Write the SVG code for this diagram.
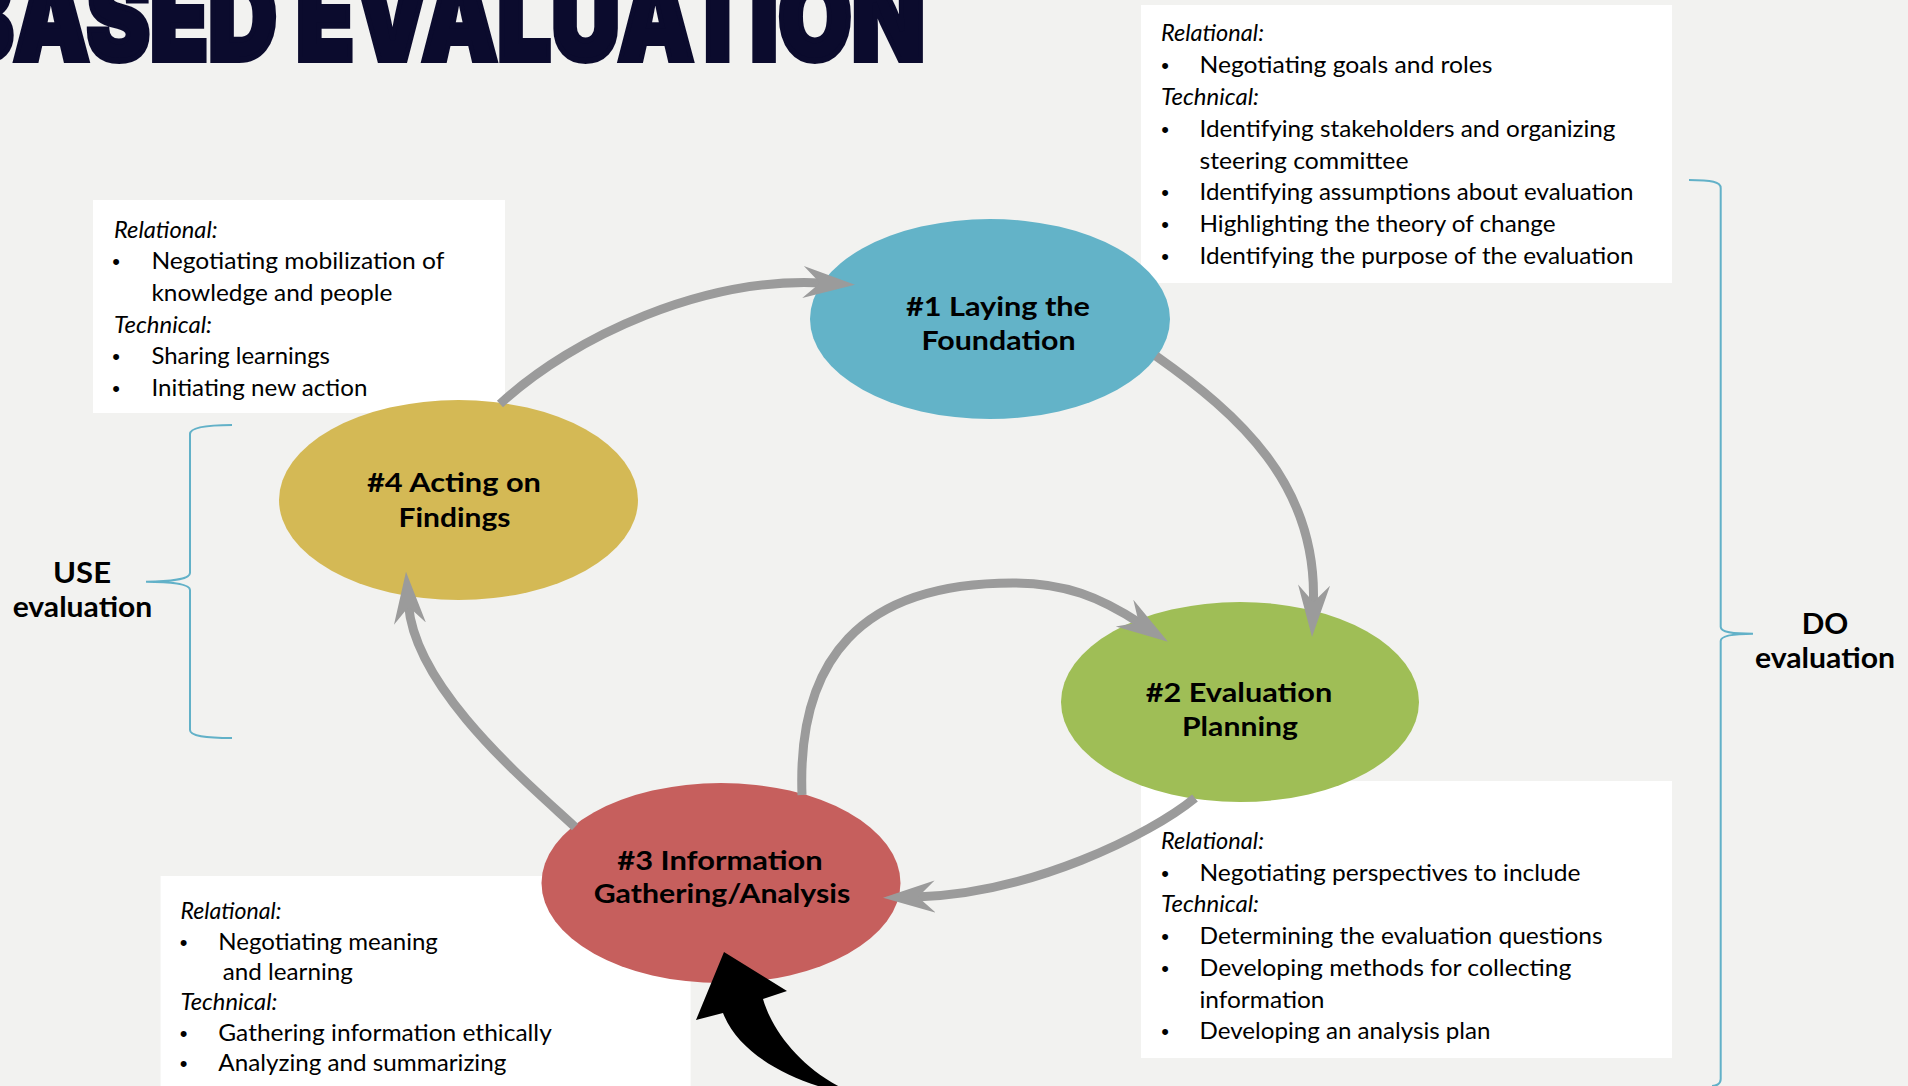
<svg xmlns="http://www.w3.org/2000/svg" width="1908" height="1086" viewBox="0 0 1908 1086">
<style>
.box{fill:#ffffff}
.body{font-family:Lato,'Open Sans','Liberation Sans',sans-serif;font-size:23px;fill:#000}
.it{font-style:italic}
.bul{font-family:'Liberation Sans',sans-serif;font-size:22px;fill:#000;text-anchor:middle}
.lbl{font-family:Lato,'Open Sans','Liberation Sans',sans-serif;font-weight:700;font-size:27px;fill:#000;text-anchor:middle}
.arrow{fill:none;stroke:#9B9B9B;stroke-width:9;marker-end:url(#ah)}
.brace{fill:none;stroke:#62B1C8;stroke-width:2}
.side{font-family:Lato,'Open Sans','Liberation Sans',sans-serif;font-weight:700;font-size:28px;fill:#000;text-anchor:middle}
</style>
<defs>
<marker id="ah" markerUnits="userSpaceOnUse" markerWidth="60" markerHeight="40" viewBox="0 -20 60 40" refX="19" refY="0" orient="auto">
<path d="M 52 0 L 0 -16 L 17 0 L 0 16 Z" fill="#9B9B9B"/>
</marker>
</defs>
<rect x="0" y="0" width="1908" height="1086" fill="#F2F2F0"/>
<text x="-50" y="60" textLength="975" lengthAdjust="spacingAndGlyphs" font-family="Inter,'Liberation Sans',sans-serif" font-weight="900" font-size="120" fill="#0B0B2D" stroke="#0B0B2D" stroke-width="6" stroke-linejoin="miter">BASED EVALUATION</text>

<g id="box-top-left">
<rect class="box" x="93" y="200" width="412" height="213"/>
<text class="body it" x="114" y="237.5" textLength="103.6" lengthAdjust="spacingAndGlyphs">Relational:</text>
<text class="bul" x="116" y="269">•</text>
<text class="body" x="151.4" y="269.2" textLength="293" lengthAdjust="spacingAndGlyphs">Negotiating mobilization of</text>
<text class="body" x="151.4" y="300.9" textLength="241" lengthAdjust="spacingAndGlyphs">knowledge and people</text>
<text class="body it" x="114" y="332.6" textLength="98" lengthAdjust="spacingAndGlyphs">Technical:</text>
<text class="bul" x="116" y="364">•</text>
<text class="body" x="151.4" y="364.3" textLength="178.6" lengthAdjust="spacingAndGlyphs">Sharing learnings</text>
<text class="bul" x="116" y="396">•</text>
<text class="body" x="151.4" y="396" textLength="216" lengthAdjust="spacingAndGlyphs">Initiating new action</text>
</g>

<g id="box-top-right">
<rect class="box" x="1141" y="5" width="531" height="278"/>
<text class="body it" x="1161" y="41" textLength="103" lengthAdjust="spacingAndGlyphs">Relational:</text>
<text class="bul" x="1165" y="73">•</text>
<text class="body" x="1199.5" y="73" textLength="293" lengthAdjust="spacingAndGlyphs">Negotiating goals and roles</text>
<text class="body it" x="1161" y="105" textLength="98" lengthAdjust="spacingAndGlyphs">Technical:</text>
<text class="bul" x="1165" y="137">•</text>
<text class="body" x="1199.5" y="137" textLength="416" lengthAdjust="spacingAndGlyphs">Identifying stakeholders and organizing</text>
<text class="body" x="1199.5" y="168.5" textLength="209" lengthAdjust="spacingAndGlyphs">steering committee</text>
<text class="bul" x="1165" y="200">•</text>
<text class="body" x="1199.5" y="200" textLength="434" lengthAdjust="spacingAndGlyphs">Identifying assumptions about evaluation</text>
<text class="bul" x="1165" y="232">•</text>
<text class="body" x="1199.5" y="232" textLength="356" lengthAdjust="spacingAndGlyphs">Highlighting the theory of change</text>
<text class="bul" x="1165" y="264">•</text>
<text class="body" x="1199.5" y="264" textLength="434" lengthAdjust="spacingAndGlyphs">Identifying the purpose of the evaluation</text>
</g>

<g id="box-bottom-right">
<rect class="box" x="1141" y="781" width="531" height="277"/>
<text class="body it" x="1161" y="849" textLength="103" lengthAdjust="spacingAndGlyphs">Relational:</text>
<text class="bul" x="1165" y="880.5">•</text>
<text class="body" x="1199.5" y="880.5" textLength="381" lengthAdjust="spacingAndGlyphs">Negotiating perspectives to include</text>
<text class="body it" x="1161" y="912" textLength="98" lengthAdjust="spacingAndGlyphs">Technical:</text>
<text class="bul" x="1165" y="944">•</text>
<text class="body" x="1199.5" y="944" textLength="403" lengthAdjust="spacingAndGlyphs">Determining the evaluation questions</text>
<text class="bul" x="1165" y="975.5">•</text>
<text class="body" x="1199.5" y="975.5" textLength="372" lengthAdjust="spacingAndGlyphs">Developing methods for collecting</text>
<text class="body" x="1199.5" y="1007.5" textLength="125" lengthAdjust="spacingAndGlyphs">information</text>
<text class="bul" x="1165" y="1039">•</text>
<text class="body" x="1199.5" y="1039" textLength="291" lengthAdjust="spacingAndGlyphs">Developing an analysis plan</text>
</g>

<g id="box-bottom-left">
<rect class="box" x="160.6" y="876" width="530" height="215"/>
<text class="body it" x="180.4" y="919" textLength="101" lengthAdjust="spacingAndGlyphs">Relational:</text>
<text class="bul" x="183.5" y="949.5">•</text>
<text class="body" x="218.3" y="949.5" textLength="219.6" lengthAdjust="spacingAndGlyphs">Negotiating meaning</text>
<text class="body" x="222.8" y="980" textLength="130" lengthAdjust="spacingAndGlyphs">and learning</text>
<text class="body it" x="180.4" y="1010" textLength="97" lengthAdjust="spacingAndGlyphs">Technical:</text>
<text class="bul" x="183.5" y="1040.5">•</text>
<text class="body" x="218.3" y="1040.5" textLength="333.5" lengthAdjust="spacingAndGlyphs">Gathering information ethically</text>
<text class="bul" x="183.5" y="1071">•</text>
<text class="body" x="218.3" y="1071" textLength="288" lengthAdjust="spacingAndGlyphs">Analyzing and summarizing</text>
</g>

<g id="node1">
<ellipse cx="990" cy="319" rx="180" ry="100" fill="#63B3C8"/>
<text class="lbl" x="998" y="316" textLength="184" lengthAdjust="spacingAndGlyphs">#1 Laying the</text>
<text class="lbl" x="998.5" y="349.5" textLength="154" lengthAdjust="spacingAndGlyphs">Foundation</text>
</g>
<g id="node2">
<ellipse cx="1240" cy="702" rx="179" ry="100" fill="#9FBE56"/>
<text class="lbl" x="1239" y="701.7" textLength="186.6" lengthAdjust="spacingAndGlyphs">#2 Evaluation</text>
<text class="lbl" x="1240" y="735.7" textLength="116" lengthAdjust="spacingAndGlyphs">Planning</text>
</g>
<g id="node3">
<ellipse cx="721" cy="883" rx="179.5" ry="100" fill="#C65F5D"/>
<text class="lbl" x="720" y="870" textLength="205.5" lengthAdjust="spacingAndGlyphs">#3 Information</text>
<text class="lbl" x="722" y="903.3" textLength="256.6" lengthAdjust="spacingAndGlyphs">Gathering/Analysis</text>
</g>
<g id="node4">
<ellipse cx="458.5" cy="500" rx="179.5" ry="100" fill="#D4B955"/>
<text class="lbl" x="454" y="491.7" textLength="174" lengthAdjust="spacingAndGlyphs">#4 Acting on</text>
<text class="lbl" x="454.5" y="526.7" textLength="112" lengthAdjust="spacingAndGlyphs">Findings</text>
</g>

<g id="connectors">
<path class="arrow" d="M 500 404 C 575 335 705 277 822 283"/>
<path class="arrow" d="M 1156 356 C 1238 414 1318 484 1313.3 604"/>
<path class="arrow" d="M 1195 798 C 1150 835 1030 894 916 897"/>
<path class="arrow" d="M 802 795 C 797 660 860 583 1013 583 C 1065 583 1100 597 1140.4 623.6"/>
<path class="arrow" d="M 575 827 C 530 785 415 690 408.5 604.7"/>
<path d="M 724 952 L 787 991 L 763 999 C 772 1030 800 1068 846 1090 L 832 1090 C 785 1078 738 1052 723 1013 L 696 1020 Z" fill="#000"/>
</g>

<g id="use-evaluation">
<path class="brace" d="M 232 425 C 205 425 190 428 190 434 L 190 573 C 190 579 170 581.7 146 581.7 C 170 581.7 190 584 190 590 L 190 730 C 190 736 205 738 232 738"/>
<text class="side" x="82" y="582.5" textLength="58" lengthAdjust="spacingAndGlyphs">USE</text>
<text class="side" x="82.5" y="616.5" textLength="139.6" lengthAdjust="spacingAndGlyphs">evaluation</text>
</g>
<g id="do-evaluation">
<path class="brace" d="M 1689 180 C 1712 180 1720.7 182 1720.7 188 L 1720.7 627 C 1720.7 632 1732 633.7 1753 633.7 C 1732 633.7 1720.7 636 1720.7 641 L 1720.7 1079 C 1720.7 1084 1716 1086 1712 1086"/>
<text class="side" x="1825" y="633.5" textLength="46.6" lengthAdjust="spacingAndGlyphs">DO</text>
<text class="side" x="1825" y="668" textLength="140" lengthAdjust="spacingAndGlyphs">evaluation</text>
</g>
</svg>
